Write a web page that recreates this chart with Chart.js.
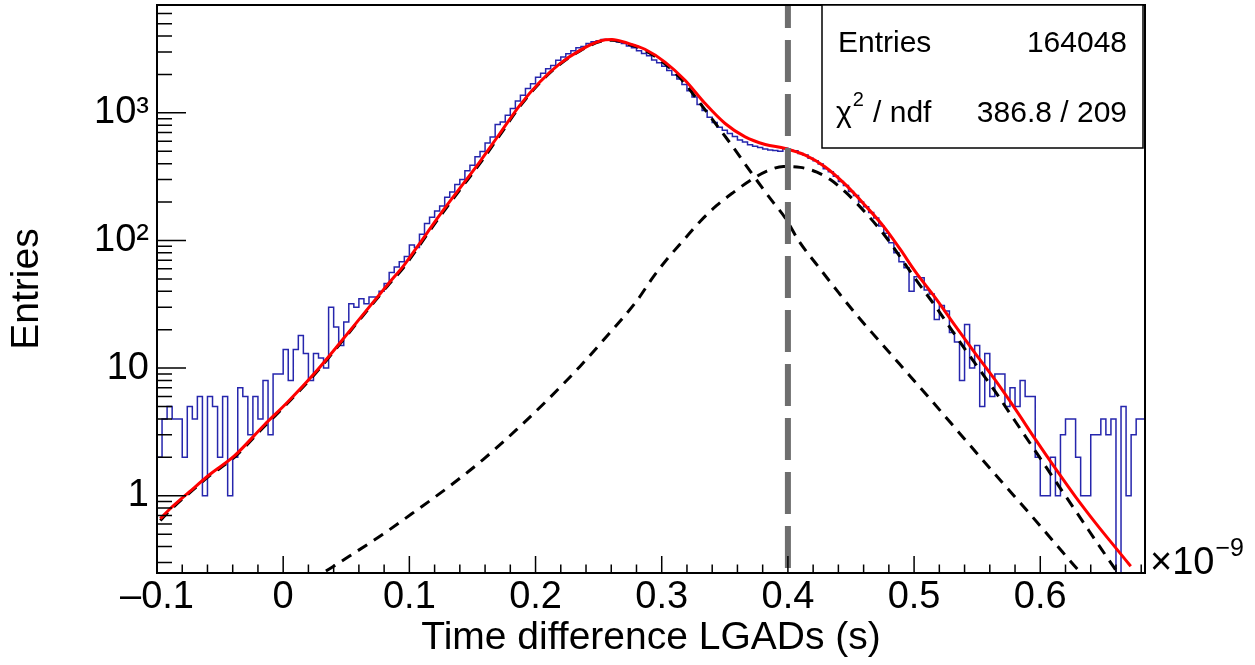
<!DOCTYPE html>
<html>
<head>
<meta charset="utf-8">
<script src="https://cdn.jsdelivr.net/npm/chart.js@4.4.0/dist/chart.umd.min.js"></script>
<style>
  html, body { margin: 0; padding: 0; background: #fff; }
</style>
</head>
<body>
<canvas id="c" width="1255" height="665"></canvas>
<script>
// time axis is in units of 1e-9 s, bins of 0.004 starting at -0.1
const binStart = -0.1;
const binWidth = 0.004;
const counts = [
  6, 2, 4, 5, 4, 4, 2, 5, 4, 6, 1, 6, 5, 2, 6, 1, 2, 7, 6, 3, 6, 4, 8, 3,
  9, 9, 14, 8, 14, 18, 13, 8, 13, 12, 10,
  30, 21, 15, 23, 32, 30, 35, 32, 36, 36, 40, 46, 56, 62, 68,
  75, 92, 88, 112, 136, 152, 170, 186, 218, 240, 274, 300, 352, 388, 452, 498, 580, 648, 812, 846,
  958, 1080, 1236, 1371, 1552, 1690, 1902, 2046, 2215, 2352, 2580, 2736, 2902, 3068, 3232, 3318, 3490, 3602, 3670, 3756,
  3731, 3712, 3590, 3496, 3340, 3236, 3068, 2920, 2802, 2598, 2466, 2320, 2150, 1978, 1842, 1670, 1488, 1330, 1164, 1042,
  925, 840, 772, 730, 688, 652, 612, 590, 562, 548, 534, 520, 512, 508, 500, 528, 510, 505, 480, 468,
  440, 422, 398, 365, 346, 318, 290, 270, 242, 225, 200, 184, 166, 150, 130, 114,
  96, 80, 68, 61, 40, 52, 51, 41, 38, 24, 31, 28, 19, 16, 8, 22, 10, 15, 5, 13, 6, 9, 9, 5, 7, 5, 8, 6, 6,
  2, 1, 1, 2, 1, 3, 4, 4, 2, 1, 1, 3, 3, 4, 3, 4, 0, 5, 1, 3, 4
];

// total fit (red)
const fitX = [-0.0974, -0.0902, -0.0744, -0.0585, -0.0387, -0.0148, 0.0034, 0.0248, 0.0462, 0.0668,
  0.0827, 0.0963, 0.1082, 0.1240, 0.1399, 0.1558, 0.1717, 0.1875, 0.2034, 0.2193,
  0.2352, 0.2510, 0.2606, 0.2725, 0.2867, 0.3026, 0.3185, 0.3344, 0.3502, 0.3661,
  0.3820, 0.3979, 0.4137, 0.4296, 0.4455, 0.4613, 0.4772, 0.4891, 0.5010, 0.5169,
  0.5328, 0.5486, 0.5645, 0.5804, 0.5963, 0.6121, 0.6280, 0.6439, 0.6598, 0.6717];
const fitY = [0.66, 0.78, 1.07, 1.46, 2.05, 3.6, 5.4, 9.1, 16.3, 29,
  45, 65, 95, 158, 256, 413, 689, 1146, 1745, 2431,
  3090, 3656, 3750, 3524, 3150, 2500, 1800, 1183, 825, 648,
  565, 526, 466, 377, 275, 188, 124, 85, 57, 35.5,
  21.3, 13, 8.0, 4.75, 2.75, 1.63, 0.98, 0.61, 0.39, 0.28];

// first component (dashed)
const sig1X = [-0.0974, -0.0902, -0.0744, -0.0585, -0.0387, -0.0148, 0.0034, 0.0248, 0.0462, 0.0668,
  0.0827, 0.0963, 0.1082, 0.1240, 0.1399, 0.1558, 0.1717, 0.1875, 0.2034, 0.2193,
  0.2352, 0.2510, 0.2606, 0.2725, 0.2867, 0.3026, 0.3185, 0.3264, 0.3397, 0.3556,
  0.3714, 0.3873, 0.3979, 0.4084, 0.4243, 0.4402, 0.4560, 0.4720, 0.4883, 0.5129,
  0.5391, 0.5661, 0.5923, 0.6121, 0.6304, 0.6400];
const sig1Y = [0.64, 0.76, 1.05, 1.43, 2.0, 3.5, 5.3, 8.9, 16, 28.5,
  44, 63, 92, 153, 248, 400, 668, 1120, 1720, 2400,
  3060, 3620, 3710, 3480, 3090, 2420, 1700, 1340, 900, 555,
  335, 205, 150, 100, 62, 39, 25, 16.5, 10.8, 5.7,
  2.85, 1.4, 0.71, 0.42, 0.26, 0.21];

// second component (dashed)
const sig2X = [0.0209, 0.0314, 0.0526, 0.0790, 0.1056, 0.1320, 0.1584, 0.1849, 0.2087, 0.2352,
  0.2563, 0.2802, 0.2933, 0.3040, 0.3171, 0.3304, 0.3436, 0.3568, 0.3701, 0.3833,
  0.3965, 0.4098, 0.4230, 0.4336, 0.4455, 0.4613, 0.4772, 0.4891, 0.5010, 0.5169,
  0.5328, 0.5486, 0.5645, 0.5804, 0.5987, 0.6145, 0.6336, 0.6463, 0.6598, 0.6677];
const sig2Y = [0.216, 0.248, 0.337, 0.499, 0.767, 1.19, 1.92, 3.29, 5.53, 10.3,
  17.7, 33.6, 51.9, 71, 100, 141, 188, 238, 295, 350,
  380, 374, 343, 300, 240, 166, 108, 74, 50, 30.5,
  18, 10.8, 6.5, 3.8, 2.05, 1.2, 0.63, 0.41, 0.262, 0.2];

const xTicks = [-0.1, 0, 0.1, 0.2, 0.3, 0.4, 0.5, 0.6];
const yTicks = [1, 10, 100, 1000];
const yTickLabels = ['1', '10', '10\u00b2', '10\u00b3'];
const cutX = 0.4;
const statEntries = '164048';
const statChi2 = '386.8 / 209';

const X_MIN = -0.1, X_MAX = 0.683;
const Y_MIN = 0.248, Y_MAX = 7000;
const FONT = "'Liberation Sans', Arial, Helvetica, sans-serif";

Chart.defaults.font.family = FONT;
Chart.defaults.color = '#000';

const histPts = counts.map((c, i) => ({ x: binStart + i * binWidth, y: c > 0 ? c : Y_MIN }));
histPts.push({ x: binStart + counts.length * binWidth, y: histPts[histPts.length - 1].y });

const toPts = (xs, ys) => xs.map((x, i) => ({ x: x, y: ys[i] }));

// no extra room for overhanging labels, the frame sits at fixed pixels
const fixBox = (s, prop, size) => {
  s[prop] = size;
  s.paddingTop = 0; s.paddingBottom = 0; s.paddingLeft = 0; s.paddingRight = 0;
};

const rootFrame = {
  id: 'rootFrame',
  afterDatasetsDraw(chart) {
    const { ctx, chartArea: a } = chart;
    const px = chart.scales.x.getPixelForValue(cutX);
    ctx.save();
    ctx.strokeStyle = '#6e6e6e';
    ctx.lineWidth = 6;
    ctx.setLineDash([42, 12]);
    ctx.lineDashOffset = 19;
    ctx.beginPath();
    ctx.moveTo(px, a.top);
    ctx.lineTo(px, a.bottom);
    ctx.stroke();
    ctx.restore();
  },
  afterDraw(chart) {
    const { ctx, chartArea: a } = chart;
    const xs = chart.scales.x, ys = chart.scales.y;
    ctx.save();
    ctx.strokeStyle = '#000';
    ctx.lineWidth = 1.5;
    ctx.beginPath();
    // x ticks every 0.02, major every 0.1
    for (let k = -5; k <= 40; k++) {
      const v = k * 0.02;
      if (v < X_MIN - 1e-9 || v > X_MAX) continue;
      const p = xs.getPixelForValue(v);
      const len = k % 5 === 0 ? 17 : 8.5;
      ctx.moveTo(p, a.bottom);
      ctx.lineTo(p, a.bottom - len);
    }
    // y log ticks
    for (let e = -1; e <= 3; e++) {
      for (let m = 1; m <= 9; m++) {
        const v = m * Math.pow(10, e);
        if (v < Y_MIN || v > Y_MAX) continue;
        const p = ys.getPixelForValue(v);
        const len = m === 1 ? 29 : 15;
        ctx.moveTo(a.left, p);
        ctx.lineTo(a.left + len, p);
      }
    }
    ctx.stroke();

    // frame
    ctx.lineWidth = 2;
    ctx.strokeRect(a.left, a.top, a.right - a.left, a.bottom - a.top);

    // stats box
    const bx = 822, by = a.top, bw = 1143 - 822, bh = 148 - a.top;
    ctx.fillStyle = '#fff';
    ctx.fillRect(bx, by, bw, bh);
    ctx.lineWidth = 1.5;
    ctx.strokeRect(bx, by, bw, bh);
    ctx.fillStyle = '#000';
    ctx.font = '30px ' + FONT;
    ctx.textBaseline = 'alphabetic';
    ctx.textAlign = 'left';
    ctx.fillText('Entries', 838, 52);
    ctx.fillText('\u03c7', 836, 122);
    const chiW = ctx.measureText('\u03c7').width;
    ctx.font = '20px ' + FONT;
    ctx.fillText('2', 836 + chiW + 1, 106);
    ctx.font = '30px ' + FONT;
    ctx.fillText(' / ndf', 836 + chiW + 13, 122);
    ctx.textAlign = 'right';
    ctx.fillText(statEntries, 1127, 52);
    ctx.fillText(statChi2, 1127, 122);

    // axis exponent
    ctx.textAlign = 'left';
    ctx.font = '38px ' + FONT;
    ctx.fillText('\u00d710', 1150, 574);
    const ew = ctx.measureText('\u00d710').width;
    ctx.font = '25px ' + FONT;
    ctx.fillText('\u22129', 1150 + ew + 1, 556);
    ctx.restore();
  }
};

new Chart(document.getElementById('c'), {
  type: 'line',
  data: {
    datasets: [
      {
        label: 'fit',
        data: toPts(fitX, fitY),
        borderColor: '#ff0000',
        borderWidth: 3,
        pointRadius: 0,
        cubicInterpolationMode: 'monotone',
        fill: false,
        clip: 0
      },
      {
        label: 'component 1',
        data: toPts(sig1X, sig1Y),
        borderColor: '#000',
        borderWidth: 3,
        borderDash: [11, 8],
        pointRadius: 0,
        cubicInterpolationMode: 'monotone',
        fill: false,
        clip: 0
      },
      {
        label: 'component 2',
        data: toPts(sig2X, sig2Y),
        borderColor: '#000',
        borderWidth: 3,
        borderDash: [11, 8],
        pointRadius: 0,
        cubicInterpolationMode: 'monotone',
        fill: false,
        clip: 0
      },
      {
        label: 'histogram',
        data: histPts,
        borderColor: '#2626ad',
        borderWidth: 1.5,
        pointRadius: 0,
        stepped: 'after',
        fill: false,
        clip: 0
      }
    ]
  },
  options: {
    responsive: false,
    animation: false,
    devicePixelRatio: 1,
    layout: { padding: { left: 0, right: 110, top: 5, bottom: 0 } },
    plugins: { legend: { display: false }, tooltip: { enabled: false } },
    scales: {
      x: {
        type: 'linear',
        min: X_MIN,
        max: X_MAX,
        grid: { display: false, drawTicks: false },
        border: { display: false },
        afterBuildTicks: s => { s.ticks = xTicks.map(v => ({ value: v })); },
        afterFit: s => fixBox(s, 'height', 92),
        ticks: {
          autoSkip: false,
          maxRotation: 0,
          padding: 2,
          font: { size: 38 },
          color: '#000',
          callback: v => Math.abs(v) < 1e-9 ? '0' : (v < 0 ? '\u2013' : '') + Math.abs(v).toFixed(1)
        },
        title: {
          display: true,
          text: 'Time difference LGADs (s)',
          font: { size: 39 },
          color: '#000',
          padding: { top: 0, bottom: 3 }
        }
      },
      y: {
        type: 'logarithmic',
        min: Y_MIN,
        max: Y_MAX,
        grid: { display: false, drawTicks: false },
        border: { display: false },
        afterBuildTicks: s => { s.ticks = yTicks.map(v => ({ value: v })); },
        afterFit: s => fixBox(s, 'width', 157),
        ticks: {
          autoSkip: false,
          padding: 8,
          font: { size: 38 },
          color: '#000',
          callback: v => yTickLabels[yTicks.indexOf(v)]
        },
        title: {
          display: true,
          text: 'Entries',
          font: { size: 39 },
          color: '#000',
          padding: { top: 4, bottom: 0 }
        }
      }
    }
  },
  plugins: [rootFrame]
});
</script>
</body>
</html>
